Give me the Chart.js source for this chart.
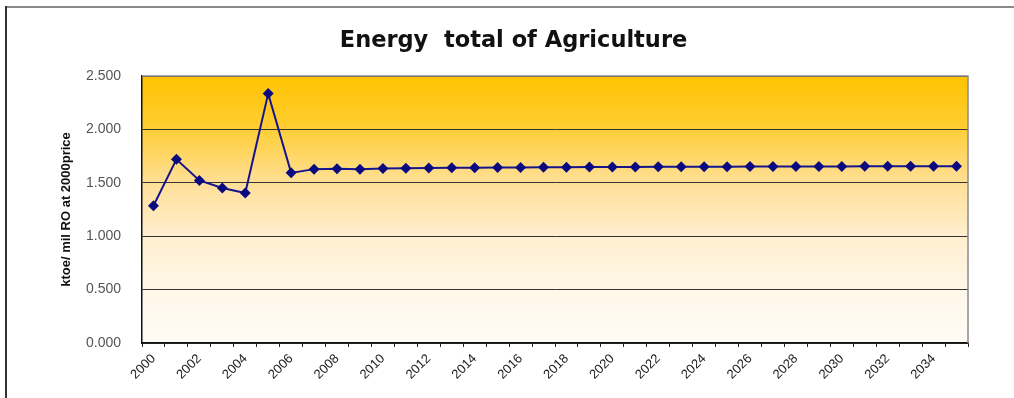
<!DOCTYPE html>
<html>
<head>
<meta charset="utf-8">
<script src="https://cdn.jsdelivr.net/npm/chart.js@4"></script>
<style>
  html, body { margin: 0; padding: 0; background: #fff; }
  #wrap { position: relative; width: 1014px; height: 398px; }
  #frameTop { position: absolute; left: 5px; top: 6px; width: 1009px; height: 2px; background: #8a8a8a; }
  #frameLeft { position: absolute; left: 5px; top: 6px; width: 2px; height: 392px; background: #333; }
  canvas { position: absolute; left: 0; top: 0; }
</style>
</head>
<body>
<div id="wrap">
  <div id="frameTop"></div>
  <div id="frameLeft"></div>
  <canvas id="chart-energi" width="1014" height="398"></canvas>
</div>
<script>
// Data
const tahun = [];
for (let t = 2000; t <= 2035; t++) tahun.push(String(t));

const energiTotal = [
  1.285, 1.720, 1.522, 1.452, 1.405, 2.335, 1.593, 1.628, 1.632, 1.628,
  1.635, 1.637, 1.638, 1.640, 1.641, 1.643, 1.644, 1.645, 1.646, 1.647,
  1.648, 1.649, 1.650, 1.650, 1.651, 1.651, 1.652, 1.652, 1.653, 1.653,
  1.653, 1.654, 1.654, 1.654, 1.655, 1.655
];

const yTicks = [0, 0.5, 1.0, 1.5, 2.0, 2.5];

// Background gradien area plot + bingkai atas/kanan
const plotBg = {
  id: "plotBg",
  beforeDraw(chart) {
    const a = chart.chartArea, ctx = chart.ctx;
    const g = ctx.createLinearGradient(0, a.top, 0, a.bottom);
    g.addColorStop(0, "#FFC300");
    g.addColorStop(0.18, "#FFCD2E");
    g.addColorStop(0.4, "#FFDF97");
    g.addColorStop(0.6, "#FFEFD0");
    g.addColorStop(0.8, "#FFF7E8");
    g.addColorStop(1, "#FFFCF6");
    ctx.save();
    ctx.fillStyle = g;
    ctx.fillRect(a.left, a.top, a.right - a.left, a.bottom - a.top);
    ctx.restore();
  },
  afterDraw(chart) {
    const a = chart.chartArea, ctx = chart.ctx;
    ctx.save();
    ctx.strokeStyle = "#8c8c8c";
    ctx.lineWidth = 1.5;
    ctx.beginPath();
    ctx.moveTo(a.left, a.top);
    ctx.lineTo(a.right, a.top);
    ctx.lineTo(a.right, a.bottom);
    ctx.stroke();
    ctx.restore();
  }
};

const ctx = document.getElementById("chart-energi").getContext("2d");
new Chart(ctx, {
  type: "line",
  data: {
    labels: tahun,
    datasets: [{
      label: "Energy total of Agriculture",
      data: energiTotal,
      borderColor: "#14148C",
      backgroundColor: "#0A0A80",
      borderWidth: 2,
      tension: 0,
      fill: false,
      pointStyle: "rectRot",
      pointRadius: 5.5,
      pointBorderWidth: 0
    }]
  },
  plugins: [plotBg],
  options: {
    responsive: false,
    animation: false,
    layout: { padding: { left: 59, right: 46, top: 12, bottom: 0 } },
    plugins: {
      legend: { display: false },
      tooltip: { enabled: false },
      title: {
        display: true,
        text: "Energy  total of Agriculture",
        color: "#111",
        font: { family: "DejaVu Sans", size: 22.5, weight: "bold", lineHeight: 1.2 },
        padding: { top: 16, bottom: 21 }
      }
    },
    scales: {
      x: {
        offset: true,
        grid: { display: true, drawOnChartArea: false, offset: true, tickLength: 4, color: "#222" },
        border: { color: "#111", width: 1.5 },
        ticks: {
          autoSkip: false,
          maxRotation: 45,
          minRotation: 45,
          color: "#222",
          padding: 4,
          font: { family: "Liberation Sans", size: 13 },
          callback: function (v, i) { return i % 2 === 0 ? this.getLabelForValue(v) : ""; }
        },
        afterFit(scale) { scale.height = 55; }
      },
      y: {
        min: 0,
        max: 2.5,
        afterBuildTicks(scale) { scale.ticks = yTicks.map(v => ({ value: v })); },
        grid: { color: "#333", lineWidth: 1, drawTicks: false },
        border: { color: "#111", width: 1.5 },
        ticks: {
          color: "#555",
          padding: 21,
          font: { family: "Liberation Sans", size: 14 },
          callback: v => v.toFixed(3)
        },
        title: {
          display: true,
          text: "ktoe/ mil RO at 2000price",
          color: "#111",
          font: { family: "Liberation Sans", size: 13, weight: "bold" },
          padding: { top: 0, bottom: 0 }
        },
        afterFit(scale) { scale.width = 83; }
      }
    }
  }
});
</script>
</body>
</html>
